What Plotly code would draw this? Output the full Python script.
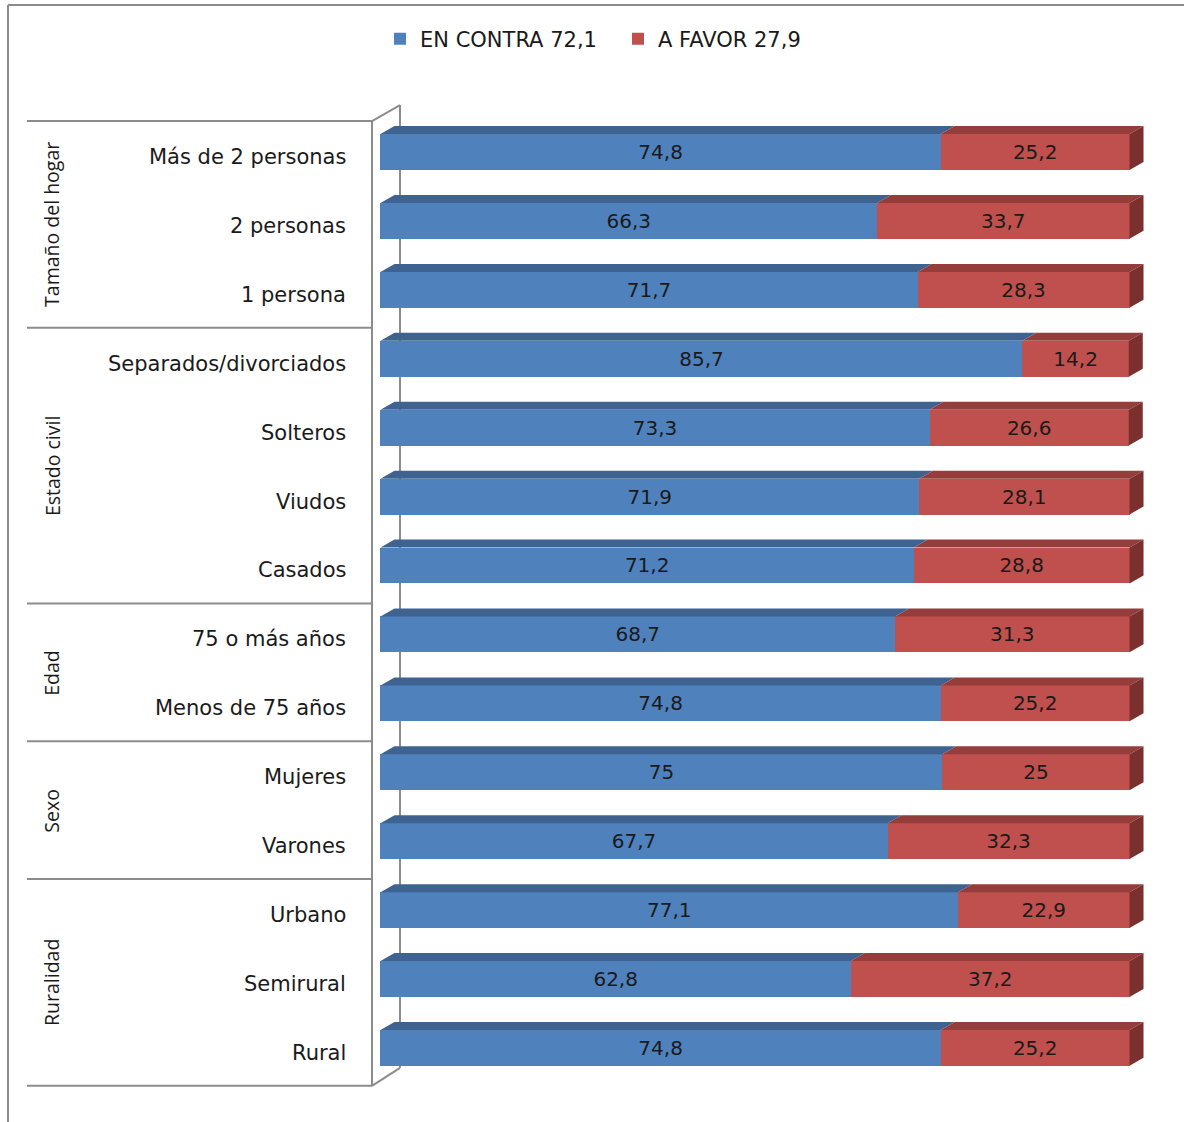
import plotly.graph_objects as go

categories = ["Más de 2 personas", "2 personas", "1 persona",
              "Separados/divorciados", "Solteros", "Viudos", "Casados",
              "75 o más años", "Menos de 75 años",
              "Mujeres", "Varones",
              "Urbano", "Semirural", "Rural"]
en_contra = [74.8, 66.3, 71.7, 85.7, 73.3, 71.9, 71.2, 68.7, 74.8, 75, 67.7, 77.1, 62.8, 74.8]
a_favor = [25.2, 33.7, 28.3, 14.2, 26.6, 28.1, 28.8, 31.3, 25.2, 25, 32.3, 22.9, 37.2, 25.2]
groups = ["Tamaño del hogar", "Estado civil", "Edad", "Sexo", "Ruralidad"]
group_sizes = [3, 4, 2, 2, 3]
total_contra = 72.1
total_favor = 27.9

def fmt(v):
    s = ("%.1f" % v).replace(".", ",")
    return s[:-2] if s.endswith(",0") else s

W, H = 1184, 1122
ML, MR, MT, MB = 370, 32, 90, 19
XR = [-1.4, 103]
YR = [13.8, -0.9]
PW = W - ML - MR
PH = H - MT - MB
HFONT = "DejaVu Sans"
VFONT = "Open Sans"
TXT = "#1a1a1a"
BLUE, RED = "#4F81BD", "#C0504D"
BLUE_TOP, RED_TOP, RED_SIDE = "#3E6391", "#953D3B", "#7C302E"
FRAME = "#8C8C8C"

def pxx(px):
    return (px - ML) / PW

def pxy(py):
    return 1 - (py - MT) / PH

ky = PH / (YR[0] - YR[1])
kx = PW / (XR[1] - XR[0])
def idx_to_py(i):
    return MT + (i - YR[1]) * ky

n = len(categories)
ys = list(range(n))
bw = 0.52
dx = 14 / kx
dy = 8 / ky

fig = go.Figure()
for vals, name, col in [(en_contra, "EN CONTRA " + fmt(total_contra), BLUE),
                        (a_favor, "A FAVOR " + fmt(total_favor), RED)]:
    fig.add_trace(go.Bar(
        y=ys, x=vals, orientation="h", width=bw, name=name,
        marker=dict(color=col, line=dict(width=0)),
        text=[fmt(v) for v in vals], textposition="inside",
        insidetextanchor="middle", textangle=0, constraintext="none",
        textfont=dict(family=HFONT, size=20, color=TXT),
        hoverinfo="skip"))

shapes = []
# 3D faces of bars
for i in range(n):
    yt = i - bw / 2
    yb = i + bw / 2
    segs = [(0, en_contra[i], BLUE_TOP), (en_contra[i], en_contra[i] + a_favor[i], RED_TOP)]
    for x0, x1, c in segs:
        path = f"M{x0},{yt} L{x1},{yt} L{x1+dx},{yt-dy} L{x0+dx},{yt-dy} Z"
        shapes.append(dict(type="path", xref="x", yref="y", path=path,
                           fillcolor=c, line=dict(width=0), layer="above"))
    xe = en_contra[i] + a_favor[i]
    path = f"M{xe},{yt} L{xe+dx},{yt-dy} L{xe+dx},{yb-dy} L{xe},{yb} Z"
    shapes.append(dict(type="path", xref="x", yref="y", path=path,
                       fillcolor=RED_SIDE, line=dict(width=0), layer="above"))

def line(x0, y0, x1, y1, layer="above", width=2):
    shapes.append(dict(type="line", xref="paper", yref="paper",
                       x0=pxx(x0), y0=pxy(y0), x1=pxx(x1), y1=pxy(y1),
                       line=dict(color=FRAME, width=width), layer=layer))

# outer chart border
line(8, 5, 8, H + 5)
line(8, 5, W + 5, 5)

# group boundaries
off = 3.5
bounds = [-0.5]
s = -0.5
for g in group_sizes:
    s += g
    bounds.append(s)
top_py = idx_to_py(bounds[0]) + off
bot_py = idx_to_py(bounds[-1]) + off
for b in bounds:
    py = idx_to_py(b) + off
    line(27, py, 372, py)
line(372, top_py, 372, bot_py)
# 3D wall
line(372, top_py, 400, top_py - 16)
line(372, bot_py, 400, bot_py - 18)
line(400, top_py - 16, 400, bot_py - 18, layer="below")

annotations = []
for i, c in enumerate(categories):
    annotations.append(dict(xref="paper", yref="y", x=pxx(348), y=i, yshift=-5,
                            xanchor="right", yanchor="middle", showarrow=False,
                            text=c, font=dict(family=HFONT, size=21, color=TXT)))
start = 0
for g, sz in zip(groups, group_sizes):
    center = start + (sz - 1) / 2
    annotations.append(dict(xref="paper", yref="y", x=pxx(52), y=center, yshift=-4,
                            xanchor="center", yanchor="middle", showarrow=False,
                            textangle=-90, text=g,
                            font=dict(family=VFONT, size=19.5, color=TXT)))
    start += sz

fig.update_layout(
    width=W, height=H,
    margin=dict(l=ML, r=MR, t=MT, b=MB, pad=0),
    paper_bgcolor="white", plot_bgcolor="white",
    barmode="stack", bargap=0.48,
    showlegend=True,
    legend=dict(orientation="h", x=pxx(380), xanchor="left", y=pxy(39), yanchor="middle",
                font=dict(family=HFONT, size=21, color=TXT),
                entrywidth=193, entrywidthmode="pixels",
                itemclick=False, traceorder="normal", bgcolor="rgba(0,0,0,0)"),
    xaxis=dict(range=XR, visible=False, fixedrange=True),
    yaxis=dict(range=YR, visible=False, fixedrange=True),
    shapes=shapes, annotations=annotations,
)

fig.write_html("out.html")
